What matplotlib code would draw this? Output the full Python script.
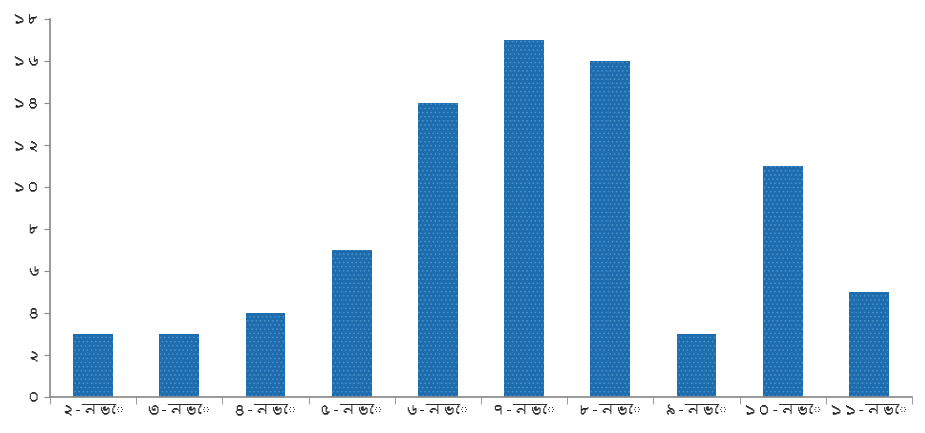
import matplotlib
matplotlib.use("Agg")
import matplotlib.pyplot as plt
from matplotlib import font_manager
from fontTools.ttLib import TTFont

days = ["২-নভে", "৩-নভে", "৪-নভে", "৫-নভে", "৬-নভে",
        "৭-নভে", "৮-নভে", "৯-নভে", "১০-নভে", "১১-নভে"]
counts = [3, 3, 4, 7, 14, 17, 16, 3, 11, 5]
yticks = [0, 2, 4, 6, 8, 10, 12, 14, 16, 18]
ylabels = ["০", "২", "৪", "৬", "৮", "১০", "১২", "১৪", "১৬", "১৮"]

# look for any installed font that has Bengali digits
bn_family = None
for path in font_manager.findSystemFonts():
    try:
        f = TTFont(path, fontNumber=0, lazy=True)
        cmap = f.getBestCmap()
        if cmap and 0x09E8 in cmap and 0x09A8 in cmap:
            bn_family = font_manager.FontProperties(fname=path).get_name()
            break
    except Exception:
        continue

families = ["DejaVu Sans"]
if bn_family:
    families = [bn_family, "DejaVu Sans"]
plt.rcParams["font.family"] = families
plt.rcParams["hatch.color"] = "#4d92c9"
plt.rcParams["hatch.linewidth"] = 0.6

fig = plt.figure(figsize=(9.25, 4.33), dpi=100)
ax = fig.add_axes([0.054, 0.083, 0.932, 0.873])

x = range(len(days))
ax.bar(x, counts, width=0.46, color="#1c6cae", hatch="....", linewidth=0)

ax.set_xlim(-0.5, len(days) - 0.5)
ax.set_ylim(0, 18)
ax.set_yticks(yticks)
ax.set_yticklabels(ylabels, fontsize=11, color="#222222")
ax.set_xticks(list(x))
ax.set_xticklabels(days, fontsize=11, color="#222222")
ax.tick_params(axis="x", length=0, pad=5)
ax.set_xticks([i + 0.5 for i in range(-1, len(days))], minor=True)
ax.tick_params(axis="x", which="minor", length=5, color="#888888")
ax.tick_params(axis="y", length=4, color="#888888", pad=3)

for s in ["top", "right"]:
    ax.spines[s].set_visible(False)
for s in ["left", "bottom"]:
    ax.spines[s].set_color("#888888")
    ax.spines[s].set_linewidth(1.2)

fig.savefig("out.png", dpi=100)
